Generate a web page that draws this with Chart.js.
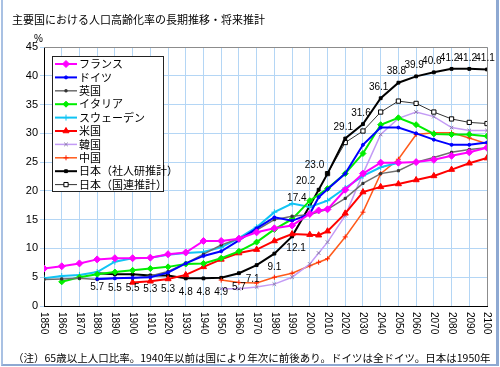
<!DOCTYPE html>
<html>
<head>
<meta charset="utf-8">
<script src="https://cdn.jsdelivr.net/npm/chart.js"></script>
<style>
html, body { margin: 0; padding: 0; background: #fff; }
#wrap { position: relative; width: 500px; height: 367px; overflow: hidden; }
#frame { position: absolute; left: 1px; top: 0; width: 493px; height: 364px;
  border-left: 2px solid #a9c1e3; border-right: 3px solid #8ea9d2; border-bottom: 2px solid #8ea9d2; }
#title { position: absolute; left: 12px; top: 11px; font: 11px "Noto Sans CJK JP"; color: #000; white-space: nowrap; }
#note { position: absolute; left: 13px; top: 350px; font: 10.5px "Noto Sans CJK JP"; color: #000; white-space: nowrap; }
canvas { position: absolute; left: 0; top: 0; }
</style>
</head>
<body>
<div id="wrap">
  <div id="frame"></div>
  <canvas id="chart" width="500" height="367"></canvas>
  <div id="title">主要国における人口高齢化率の長期推移・将来推計</div>
  <div id="note">（注）65歳以上人口比率。1940年以前は国により年次に前後あり。ドイツは全ドイツ。日本は1950年</div>
</div>
<script>
// 年次（2005年は一部の国のみ）
const years = [1850,1860,1870,1880,1890,1900,1910,1920,1930,1940,1950,1960,1970,1980,1990,2000,2005,2010,2020,2030,2040,2050,2060,2070,2080,2090,2100];
const xLabels = [1850,1860,1870,1880,1890,1900,1910,1920,1930,1940,1950,1960,1970,1980,1990,2000,2010,2020,2030,2040,2050,2060,2070,2080,2090,2100];

const france  = [6.5,6.9,7.4,8.1,8.3,8.3,8.4,9.0,9.3,11.3,11.3,11.7,12.8,13.5,14.0,16.0,16.6,16.8,20.2,23.0,24.9,24.9,25.0,25.4,26.1,26.7,27.5];
const germany = [null,null,null,4.7,4.8,4.9,5.0,5.8,7.4,8.7,9.5,11.4,13.5,15.4,14.8,16.0,18.9,20.3,23.0,28.0,31.0,31.0,30.0,28.9,28.0,28.0,28.4];
const uk      = [4.6,4.7,4.8,4.6,4.8,4.8,5.2,6.0,7.4,9.0,10.6,11.7,13.2,15.0,15.6,15.9,null,16.8,18.7,21.3,23.0,23.5,25.0,25.8,26.7,27.2,27.5];
const italy   = [null,4.2,5.0,5.5,5.9,6.2,6.5,6.8,7.3,7.4,8.3,9.5,11.1,13.3,15.1,18.3,null,20.4,23.0,26.5,31.5,32.7,31.5,29.9,29.8,29.8,29.5];
const sweden  = [4.8,5.2,5.4,5.9,7.7,8.3,8.4,8.9,9.2,9.4,10.2,11.8,13.7,16.3,17.8,17.2,null,18.3,20.5,22.6,24.1,24.9,null,null,null,null,null];
const usa     = [null,null,null,null,null,4.1,4.3,4.7,5.4,6.8,8.1,9.2,9.8,11.3,12.5,12.4,12.3,13.0,16.1,19.8,20.7,21.2,21.9,22.6,23.7,24.8,25.7];
const korea   = [null,null,null,null,null,null,null,null,null,null,3.0,3.0,3.3,3.8,5.0,7.3,9.2,11.1,15.7,23.0,29.8,32.6,33.7,32.9,31.0,30.5,30.5];
const china   = [null,null,null,null,null,null,null,null,null,null,4.5,4.1,4.0,5.0,5.7,7.0,7.6,8.2,12.0,16.3,23.0,25.5,29.8,30.1,30.1,29.2,28.2];
const japanIpss = [null,null,null,5.7,5.5,5.5,5.3,5.3,4.8,4.8,4.9,5.7,7.1,9.1,12.1,17.4,20.2,23.0,29.1,31.6,36.1,38.8,39.9,40.6,41.2,41.2,41.1];
const japanUn   = [null,null,null,null,null,null,null,null,null,null,null,null,null,null,null,null,null,23.0,28.4,30.4,33.7,35.6,35.2,33.7,32.5,31.9,31.7];

const names = ['フランス','ドイツ','英国','イタリア','スウェーデン','米国','韓国','中国','日本（社人研推計）','日本（国連推計）'];

function pts(vals) {
  return years.map((y, i) => ({ x: y, y: vals[i] }));
}

function series(label, vals, color, style, radius, width, pointColor, pointFill) {
  return {
    label: label,
    data: pts(vals),
    borderColor: color,
    backgroundColor: color,
    borderWidth: width,
    pointStyle: style,
    pointRadius: radius,
    pointBorderColor: pointColor || color,
    pointBackgroundColor: pointFill || pointColor || color,
    pointBorderWidth: 1,
    spanGaps: true,
    tension: 0
  };
}

const datasets = [
  series(names[0], france, '#ff00ff', 'rectRot', 3.5, 2),
  series(names[1], germany, '#0000ff', 'circle', 1.5, 2),
  series(names[2], uk, '#6e6e6e', 'rect', 1.5, 1.5, '#333333'),
  series(names[3], italy, '#00ee00', 'rectRot', 3, 2),
  series(names[4], sweden, '#10c4f4', 'cross', 3, 2),
  series(names[5], usa, '#ff0000', 'triangle', 3.5, 2),
  series(names[6], korea, '#c39bf5', 'crossRot', 2.5, 1.5, '#8a7ca8'),
  series(names[7], china, '#ff5a1a', 'cross', 2.5, 1.5, '#ff2000'),
  series(names[8], japanIpss, '#000000', 'rect', 2, 2),
  series(names[9], japanUn, '#333333', 'rect', 3, 1, '#000000', '#ffffff')
];

function drawMarker(ctx, ds, x, y) {
  ctx.save();
  ctx.fillStyle = ds.pointBackgroundColor;
  ctx.strokeStyle = ds.pointBorderColor;
  ctx.lineWidth = ds.pointBorderWidth;
  Chart.helpers.drawPoint(ctx, { pointStyle: ds.pointStyle, radius: ds.pointRadius, borderWidth: ds.pointBorderWidth, rotation: 0 }, x, y);
  ctx.restore();
}

const extras = {
  id: 'extras',
  afterDatasetsDraw(chart) {
    const ctx = chart.ctx;
    const a = chart.chartArea;
    const xs = chart.scales.x;

    // 上と右の枠（灰色）
    ctx.save();
    ctx.strokeStyle = '#8c8c8c';
    ctx.lineWidth = 1;
    ctx.beginPath();
    ctx.moveTo(a.left, a.top + 0.5);
    ctx.lineTo(a.right + 0.5, a.top + 0.5);
    ctx.lineTo(a.right + 0.5, a.bottom);
    ctx.stroke();
    ctx.restore();

    // 横軸の年（縦書き）
    ctx.save();
    ctx.fillStyle = '#000';
    ctx.font = '10px "Liberation Sans"';
    ctx.textAlign = 'left';
    ctx.textBaseline = 'middle';
    xLabels.forEach(v => {
      const px = xs.getPixelForValue(v);
      ctx.save();
      ctx.translate(px, a.bottom + 6);
      ctx.rotate(Math.PI / 2);
      ctx.fillText(String(v), 0, 0);
      ctx.restore();
    });
    ctx.restore();

    // %
    ctx.save();
    ctx.fillStyle = '#000';
    ctx.font = '10px "Liberation Sans"';
    ctx.textAlign = 'left';
    ctx.textBaseline = 'middle';
    ctx.fillText('%', a.left - 10, a.top - 8);
    ctx.restore();

    // 日本（社人研推計）の数値
    const meta = chart.getDatasetMeta(8);
    ctx.save();
    ctx.fillStyle = '#000';
    ctx.font = '10px "Liberation Sans"';
    ctx.textAlign = 'center';
    ctx.textBaseline = 'middle';
    meta.data.forEach((el, i) => {
      const v = japanIpss[i];
      if (v == null) return;
      const yr = years[i];
      let dx = 0, dy = 14;
      if (yr >= 2000 && yr <= 2010) { dx = -13; dy = -8; }
      else if (yr > 2010) { dx = -2; dy = -11; }
      else if (yr === 1970) { dx = -4; }
      else if (yr === 1990) { dx = 4; dy = 12; }
      ctx.fillText(v.toFixed(1), el.x + dx, el.y + dy);
    });
    ctx.restore();

    // 凡例
    const lx = 52, ly = 56, lw = 111, lh = 135;
    ctx.save();
    ctx.fillStyle = '#fff';
    ctx.fillRect(lx, ly, lw, lh);
    ctx.strokeStyle = '#222';
    ctx.lineWidth = 1;
    ctx.strokeRect(lx + 0.5, ly + 0.5, lw, lh);
    ctx.font = '11px "Noto Sans CJK JP"';
    ctx.textAlign = 'left';
    ctx.textBaseline = 'middle';
    datasets.forEach((ds, i) => {
      const ry = ly + 8 + i * 13.4;
      ctx.strokeStyle = ds.borderColor;
      ctx.lineWidth = ds.borderWidth;
      ctx.beginPath();
      ctx.moveTo(lx + 3, ry);
      ctx.lineTo(lx + 25, ry);
      ctx.stroke();
      drawMarker(ctx, ds, lx + 14, ry);
      ctx.fillStyle = '#000';
      ctx.fillText(ds.label, lx + 27, ry);
    });
    ctx.restore();
  }
};

new Chart(document.getElementById('chart'), {
  type: 'line',
  data: { datasets: datasets },
  options: {
    responsive: false,
    animation: false,
    layout: { padding: { left: 0, right: 13, top: 47, bottom: 61 } },
    plugins: { legend: { display: false }, tooltip: { enabled: false } },
    scales: {
      x: {
        type: 'linear', min: 1850, max: 2100,
        ticks: { stepSize: 10, display: false },
        grid: { color: '#b4d6f5', drawTicks: false },
        border: { color: '#000', width: 1 }
      },
      y: {
        min: 0, max: 45,
        ticks: { stepSize: 5, color: '#000', font: { size: 11, family: 'Liberation Sans' }, padding: 2 },
        grid: { color: '#b4d6f5', tickLength: 4 },
        border: { color: '#000', width: 1 },
        afterFit(s) { s.width = 44; }
      }
    }
  },
  plugins: [extras]
});
</script>
</body>
</html>
